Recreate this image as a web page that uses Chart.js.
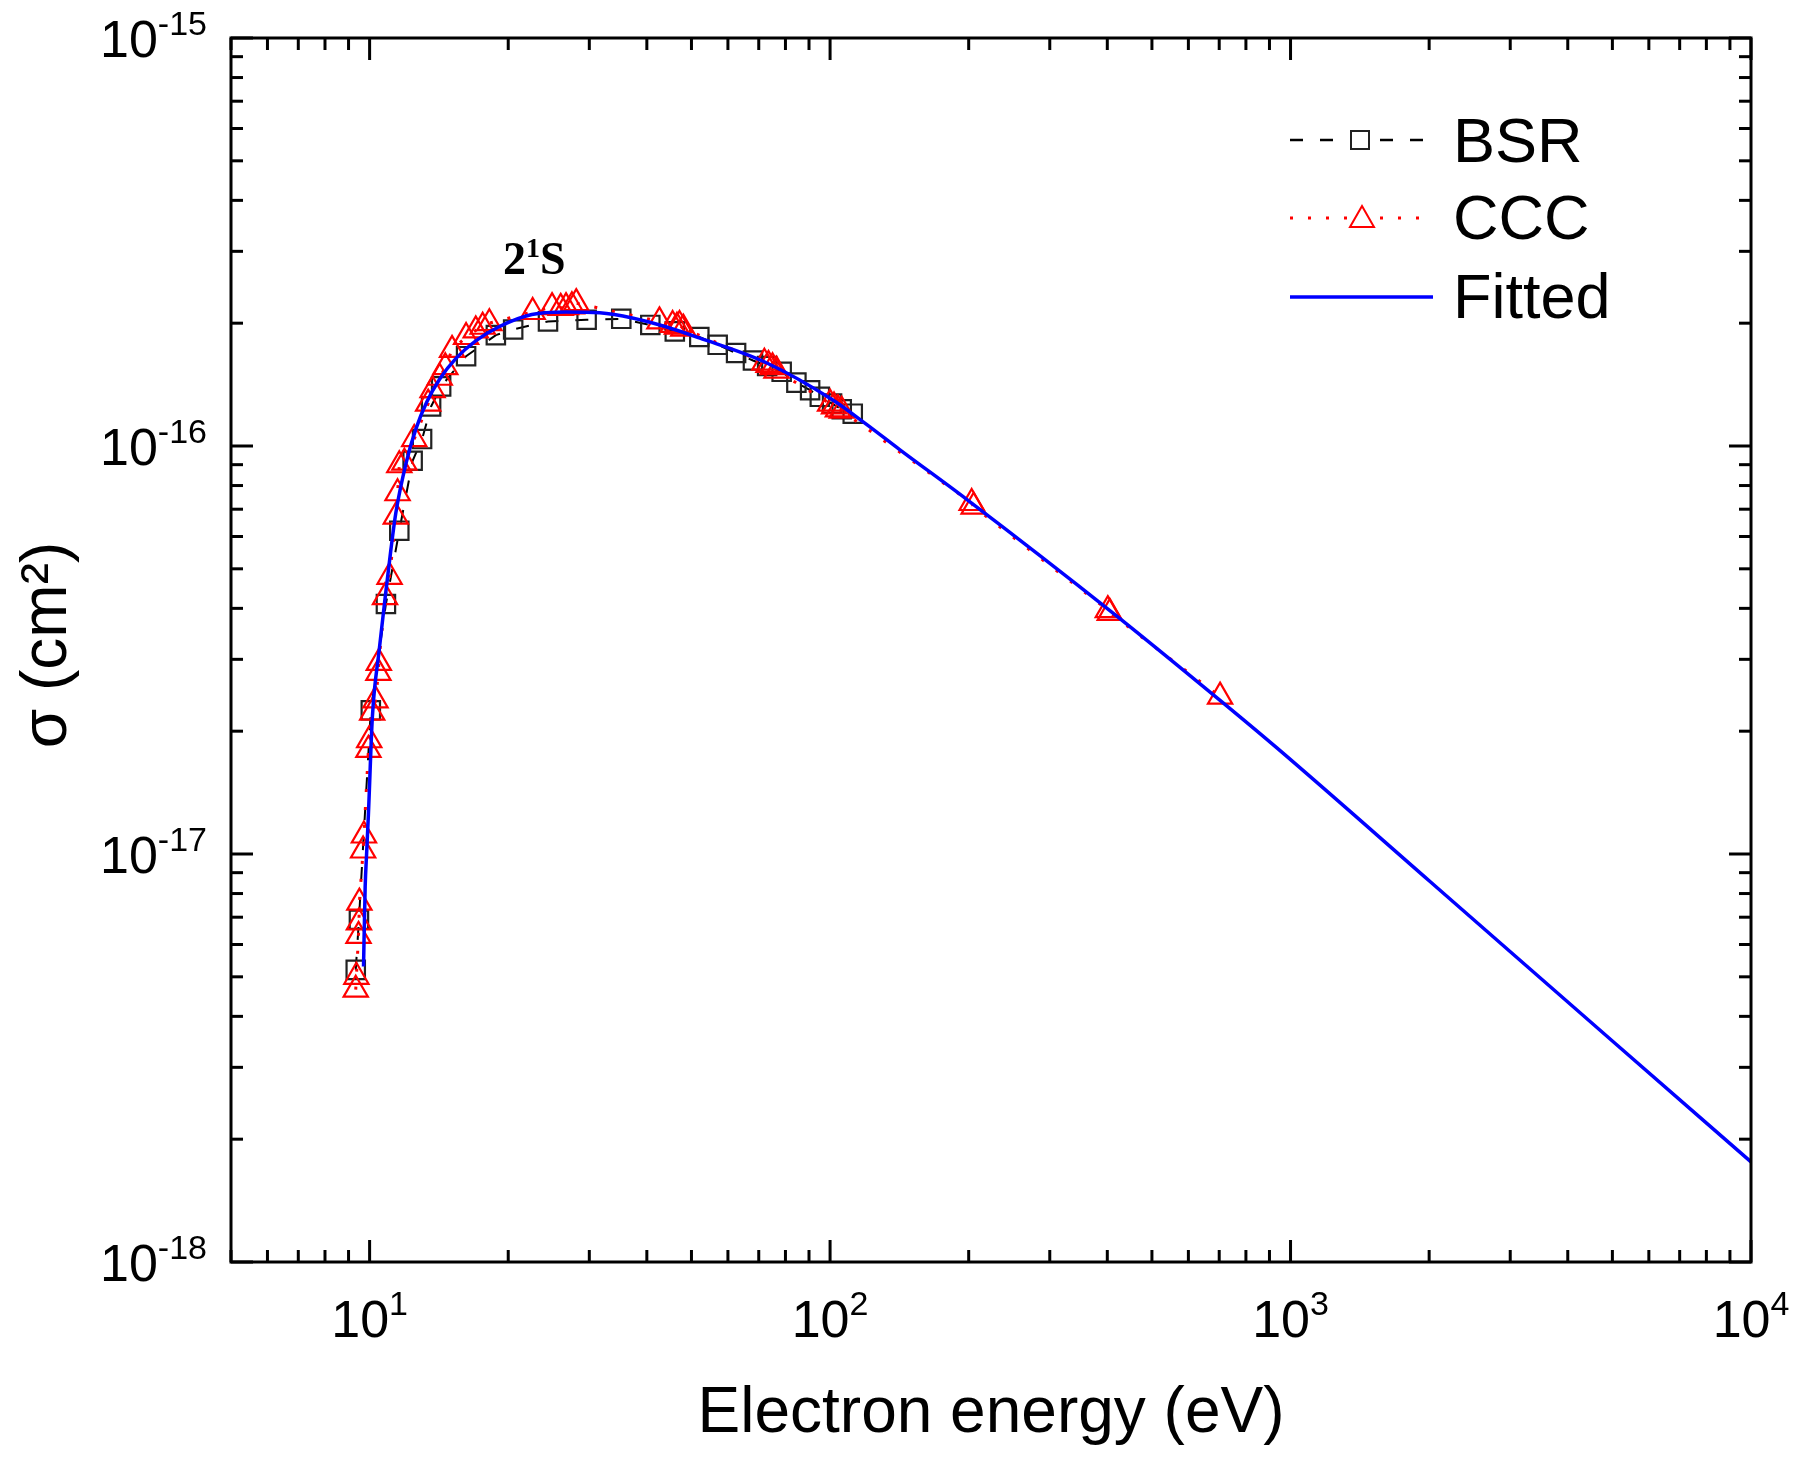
<!DOCTYPE html>
<html><head><meta charset="utf-8">
<script src="https://cdn.jsdelivr.net/npm/chart.js@4.4.1/dist/chart.umd.min.js"></script>
<style>html,body{margin:0;padding:0;background:#fff}#wrap{width:1800px;height:1460px;position:relative}</style>
</head><body><div id="wrap"><canvas id="c"></canvas></div>
<script>
// ---- data ----
const bsrEnergy = [9.33, 9.48, 10.06, 10.85, 11.6, 12.4, 13.0, 13.6, 14.3, 16.2, 18.8, 20.5, 24.4, 29.6, 35.2, 40.7, 46, 52, 57, 62.5, 68, 73, 78.5, 84.5, 90.5, 95, 101, 106, 112];
const bsrSigma = [5.2e-18, 6.9e-18, 2.25e-17, 4.1e-17, 6.2e-17, 9.2e-17, 1.04e-16, 1.25e-16, 1.4e-16, 1.66e-16, 1.87e-16, 1.93e-16, 2.02e-16, 2.04e-16, 2.05e-16, 1.98e-16, 1.91e-16, 1.85e-16, 1.77e-16, 1.69e-16, 1.62e-16, 1.57e-16, 1.52e-16, 1.43e-16, 1.37e-16, 1.32e-16, 1.27e-16, 1.23e-16, 1.20e-16];
const cccEnergy = [9.33, 9.36, 9.46, 9.48, 9.50, 9.68, 9.72, 9.94, 9.98, 10.13, 10.30, 10.45, 10.47, 10.8, 11.05, 11.4, 11.5, 11.6, 11.9, 12.5, 13.4, 13.7, 14.2, 14.6, 15.1, 16.2, 17.0, 17.6, 18.2, 22.6, 24.9, 26.0, 26.7, 27.5, 28.1, 42.6, 45.5, 46.5, 47.1, 48, 72, 73.5, 75, 76.5, 100, 102, 104, 106, 203, 205, 401, 405, 703];
const cccSigma = [4.65e-18, 5.0e-18, 6.3e-18, 6.8e-18, 7.6e-18, 1.02e-17, 1.11e-17, 1.80e-17, 1.90e-17, 2.22e-17, 2.38e-17, 2.78e-17, 2.94e-17, 4.26e-17, 4.78e-17, 6.71e-17, 7.66e-17, 8.97e-17, 9.1e-17, 1.04e-16, 1.27e-16, 1.37e-16, 1.47e-16, 1.56e-16, 1.72e-16, 1.85e-16, 1.92e-16, 1.96e-16, 2.0e-16, 2.13e-16, 2.19e-16, 2.18e-16, 2.19e-16, 2.2e-16, 2.24e-16, 2.02e-16, 1.98e-16, 1.96e-16, 1.98e-16, 1.94e-16, 1.6e-16, 1.58e-16, 1.56e-16, 1.53e-16, 1.27e-16, 1.25e-16, 1.23e-16, 1.22e-16, 7.25e-17, 7.1e-17, 3.96e-17, 3.9e-17, 2.43e-17];
const fitEnergy = [9.70, 9.78, 9.85, 9.94, 10.14, 10.49, 10.81, 11.12, 11.40, 12.0, 12.6, 13.3, 14.2, 15.4, 17.0, 19.1, 22.5, 26.7, 31.6, 37.2, 44.0, 52.0, 72.7, 101, 120, 141.6, 198, 411, 703, 934, 2000, 5000, 10000];
const fitSigma = [5.3e-18, 8.3e-18, 1.0e-17, 1.25e-17, 2.17e-17, 3.16e-17, 4.26e-17, 5.56e-17, 6.85e-17, 9.08e-17, 1.10e-16, 1.28e-16, 1.46e-16, 1.64e-16, 1.81e-16, 1.96e-16, 2.10e-16, 2.13e-16, 2.12e-16, 2.06e-16, 1.96e-16, 1.84e-16, 1.60e-16, 1.30e-16, 1.13e-16, 9.8e-17, 7.4e-17, 3.9e-17, 2.38e-17, 1.82e-17, 8.6e-18, 3.48e-18, 1.76e-18];
const seriesNames = ['BSR', 'CCC', 'Fitted'];
const xTickValues = [10, 100, 1000, 10000];
const xTickExponents = ['1', '2', '3', '4'];
const yTickValues = [1e-15, 1e-16, 1e-17, 1e-18];
const yTickExponents = ['-15', '-16', '-17', '-18'];
const xTitle = 'Electron energy (eV)';
const yTitle = 'σ (cm²)';
const annotationMain = '2', annotationSup = '1', annotationTail = 'S';

const pairs = (xs, ys) => xs.map((v, i) => ({x: v, y: ys[i]}));
const SANS = '"Liberation Sans", Arial, Helvetica, sans-serif';
const SERIF = '"Liberation Serif", "Times New Roman", serif';

function logTicks(min, max) {
  const out = [];
  const e0 = Math.floor(Math.log10(min)) - 1, e1 = Math.ceil(Math.log10(max)) + 1;
  for (let e = e0; e <= e1; e++) {
    for (let m = 1; m <= 9; m++) {
      const v = m * Math.pow(10, e);
      if (v >= min * (1 - 1e-9) && v <= max * (1 + 1e-9)) out.push({v, major: m === 1});
    }
  }
  return out;
}

const decor = {
  id: 'decor',
  afterDraw(chart) {
    const {ctx, chartArea: a, scales: {x, y}} = chart;
    ctx.save();
    ctx.strokeStyle = '#000'; ctx.fillStyle = '#000';
    ctx.lineWidth = 3; ctx.setLineDash([]);
    const seg = (x1, y1, x2, y2) => { ctx.beginPath(); ctx.moveTo(x1, y1); ctx.lineTo(x2, y2); ctx.stroke(); };
    // frame
    ctx.strokeRect(a.left, a.top, a.right - a.left, a.bottom - a.top);
    // ticks (inward, mirrored)
    for (const t of logTicks(x.min, x.max)) {
      const px = x.getPixelForValue(t.v), L = t.major ? 22 : 12;
      seg(px, a.bottom, px, a.bottom - L);
      seg(px, a.top, px, a.top + L);
    }
    for (const t of logTicks(y.min, y.max)) {
      const py = y.getPixelForValue(t.v), L = t.major ? 22 : 12;
      seg(a.left, py, a.left + L, py);
      seg(a.right, py, a.right - L, py);
    }
    // tick labels
    const bigF = '52px ' + SANS, supF = '34px ' + SANS;
    ctx.textAlign = 'left'; ctx.textBaseline = 'alphabetic';
    yTickValues.forEach((v, i) => {
      const py = y.getPixelForValue(v);
      ctx.font = bigF; const w10 = ctx.measureText('10').width;
      ctx.font = supF; const we = ctx.measureText(yTickExponents[i]).width;
      const x0 = 207 - we - w10;
      ctx.font = bigF; ctx.fillText('10', x0, py + 18.5);
      ctx.font = supF; ctx.fillText(yTickExponents[i], x0 + w10, py - 3.5);
    });
    xTickValues.forEach((v, i) => {
      const px = x.getPixelForValue(v);
      ctx.font = bigF; const w10 = ctx.measureText('10').width;
      ctx.font = supF; const we = ctx.measureText(xTickExponents[i]).width;
      const x0 = px - (w10 + we) / 2;
      ctx.font = bigF; ctx.fillText('10', x0, a.bottom + 75);
      ctx.font = supF; ctx.fillText(xTickExponents[i], x0 + w10, a.bottom + 53);
    });
    // axis titles
    ctx.font = '64px ' + SANS; ctx.textAlign = 'center';
    ctx.fillText(xTitle, (a.left + a.right) / 2, 1432);
    ctx.save();
    ctx.translate(66, 645); ctx.rotate(-Math.PI / 2);
    ctx.fillText(yTitle, 0, 0);
    ctx.restore();
    // legend
    const lx1 = 1290, lx2 = 1433, tx = 1453;
    ctx.textAlign = 'left';
    // BSR
    ctx.strokeStyle = '#000'; ctx.lineWidth = 2.5; ctx.setLineDash([13, 17]);
    seg(lx1, 140, 1423, 140);
    ctx.setLineDash([]); ctx.lineWidth = 2; ctx.strokeStyle = '#222';
    ctx.fillStyle = '#fff'; ctx.fillRect(1351, 131, 18, 18);
    ctx.strokeRect(1351, 131, 18, 18);
    // CCC
    ctx.strokeStyle = '#ff0000'; ctx.lineWidth = 3; ctx.setLineDash([3, 15]);
    seg(lx1, 218, lx2, 218);
    ctx.setLineDash([]); ctx.lineWidth = 2;
    ctx.beginPath(); ctx.moveTo(1362, 206); ctx.lineTo(1374, 227); ctx.lineTo(1350, 227); ctx.closePath();
    ctx.fillStyle = '#fff'; ctx.fill(); ctx.stroke();
    // Fitted
    ctx.strokeStyle = '#0000ff'; ctx.lineWidth = 3.5;
    seg(lx1, 297, lx2, 297);
    ctx.fillStyle = '#000'; ctx.font = '63px ' + SANS;
    ctx.fillText(seriesNames[0], tx, 162);
    ctx.fillText(seriesNames[1], tx, 239);
    ctx.fillText(seriesNames[2], tx, 318);
    // annotation 2^1S
    ctx.font = 'bold 46px ' + SERIF;
    let ax = 503; const ab = 274;
    ctx.fillText(annotationMain, ax, ab); ax += ctx.measureText(annotationMain).width;
    ctx.font = 'bold 28px ' + SERIF;
    ctx.fillText(annotationSup, ax, ab - 17); ax += ctx.measureText(annotationSup).width;
    ctx.font = 'bold 46px ' + SERIF;
    ctx.fillText(annotationTail, ax, ab);
    ctx.restore();
  }
};

new Chart(document.getElementById('c'), {
  type: 'scatter',
  data: {
    datasets: [
      {label: seriesNames[0], data: pairs(bsrEnergy, bsrSigma), showLine: true, borderColor: '#000', borderWidth: 2,
       borderDash: [13, 17], pointStyle: 'rect', pointRadius: 13, pointBorderWidth: 2.2, pointBorderColor: '#222',
       pointBackgroundColor: 'rgba(0,0,0,0)', tension: 0, order: 2},
      {label: seriesNames[1], data: pairs(cccEnergy, cccSigma), showLine: true, borderColor: '#ff0000', borderWidth: 3,
       borderDash: [3, 15], pointStyle: 'triangle', pointRadius: 14, pointBorderWidth: 2.2, pointBorderColor: '#ff0000',
       pointBackgroundColor: 'rgba(0,0,0,0)', tension: 0, order: 1},
      {label: seriesNames[2], data: pairs(fitEnergy, fitSigma), showLine: true, borderColor: '#0000ff', borderWidth: 3.5,
       pointRadius: 0, cubicInterpolationMode: 'monotone', order: 0}
    ]
  },
  options: {
    responsive: true, maintainAspectRatio: false, animation: false, events: [],
    layout: {padding: {left: 231, right: 49, top: 38, bottom: 198}},
    plugins: {legend: {display: false}, tooltip: {enabled: false}},
    scales: {
      x: {type: 'logarithmic', min: 5, max: 10000, display: false},
      y: {type: 'logarithmic', min: 1e-18, max: 1e-15, display: false}
    }
  },
  plugins: [decor]
});
</script></body></html>
